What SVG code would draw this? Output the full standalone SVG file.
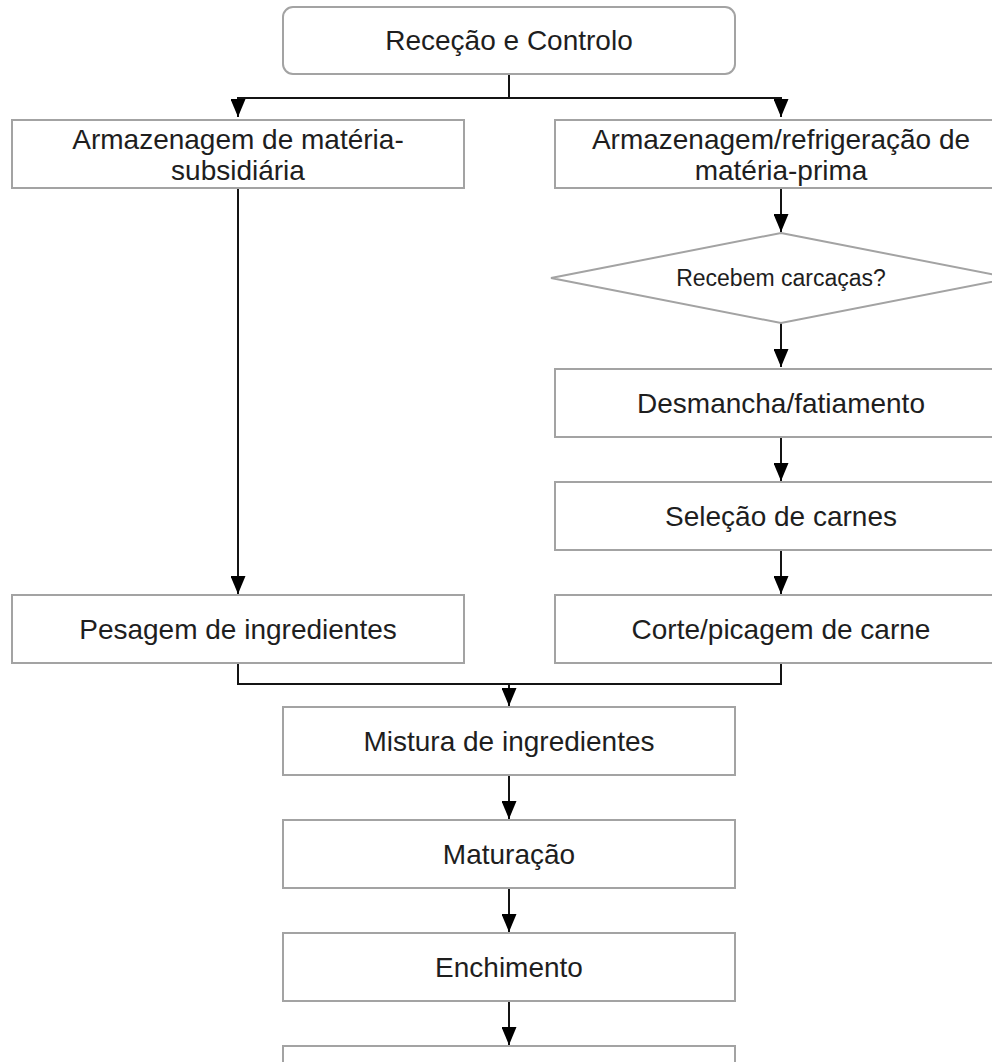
<svg xmlns="http://www.w3.org/2000/svg" width="992" height="1062" viewBox="0 0 992 1062">
<style>
.box{fill:#ffffff;stroke:#a3a3a3;stroke-width:2}
.t{font-family:"Liberation Sans",Arial,Helvetica,sans-serif;font-size:28px;fill:#1e1e1e;text-anchor:middle}
.ts{font-family:"Liberation Sans",Arial,Helvetica,sans-serif;font-size:23px;fill:#1e1e1e;text-anchor:middle}
.c{fill:none;stroke:#141414;stroke-width:2}
</style>
<defs>
<marker id="a" markerUnits="userSpaceOnUse" markerWidth="19" markerHeight="15" viewBox="0 0 19 15" refX="18" refY="7.5" orient="auto">
<path d="M0,0 L18,7.5 L0,15 Z" fill="#000000"/>
</marker>
</defs>
<rect width="992" height="1062" fill="#ffffff"/>
<g id="connectors">
<path class="c" d="M509,74 V98 H238 V117" marker-end="url(#a)"/>
<path class="c" d="M509,98 H781 V117" marker-end="url(#a)"/>
<path class="c" d="M238,188 V594" marker-end="url(#a)"/>
<path class="c" d="M781,188 V232" marker-end="url(#a)"/>
<path class="c" d="M781,323 V367" marker-end="url(#a)"/>
<path class="c" d="M781,437 V481" marker-end="url(#a)"/>
<path class="c" d="M781,550 V594" marker-end="url(#a)"/>
<path class="c" d="M238,663 V684 H509 V706" marker-end="url(#a)"/>
<path class="c" d="M781,663 V684 H509"/>
<path class="c" d="M509,775 V819" marker-end="url(#a)"/>
<path class="c" d="M509,888 V932" marker-end="url(#a)"/>
<path class="c" d="M509,1001 V1045" marker-end="url(#a)"/>
</g>
<g id="n-rececao">
<rect class="box" x="283" y="7" width="452" height="67" rx="10" ry="10"/>
<text class="t" x="509" y="50">Receção e Controlo</text>
</g>
<g id="n-arm-sub">
<rect class="box" x="12" y="120" width="452" height="68"/>
<text class="t" x="238" y="149">Armazenagem de matéria-</text>
<text class="t" x="238" y="180">subsidiária</text>
</g>
<g id="n-arm-prima">
<rect class="box" x="555" y="120" width="452" height="68"/>
<text class="t" x="781" y="149">Armazenagem/refrigeração de</text>
<text class="t" x="781" y="180">matéria-prima</text>
</g>
<g id="n-decisao">
<polygon class="box" points="781,233 1011,278 781,323 551,278"/>
<text class="ts" x="781" y="286">Recebem carcaças?</text>
</g>
<g id="n-desmancha">
<rect class="box" x="555" y="369" width="452" height="68"/>
<text class="t" x="781" y="413">Desmancha/fatiamento</text>
</g>
<g id="n-selecao">
<rect class="box" x="555" y="482" width="452" height="68"/>
<text class="t" x="781" y="526">Seleção de carnes</text>
</g>
<g id="n-corte">
<rect class="box" x="555" y="595" width="452" height="68"/>
<text class="t" x="781" y="639">Corte/picagem de carne</text>
</g>
<g id="n-pesagem">
<rect class="box" x="12" y="595" width="452" height="68"/>
<text class="t" x="238" y="639">Pesagem de ingredientes</text>
</g>
<g id="n-mistura">
<rect class="box" x="283" y="707" width="452" height="68"/>
<text class="t" x="509" y="751">Mistura de ingredientes</text>
</g>
<g id="n-maturacao">
<rect class="box" x="283" y="820" width="452" height="68"/>
<text class="t" x="509" y="864">Maturação</text>
</g>
<g id="n-enchimento">
<rect class="box" x="283" y="933" width="452" height="68"/>
<text class="t" x="509" y="977">Enchimento</text>
</g>
<g id="n-next">
<rect class="box" x="283" y="1046" width="452" height="68"/>
</g>
</svg>
